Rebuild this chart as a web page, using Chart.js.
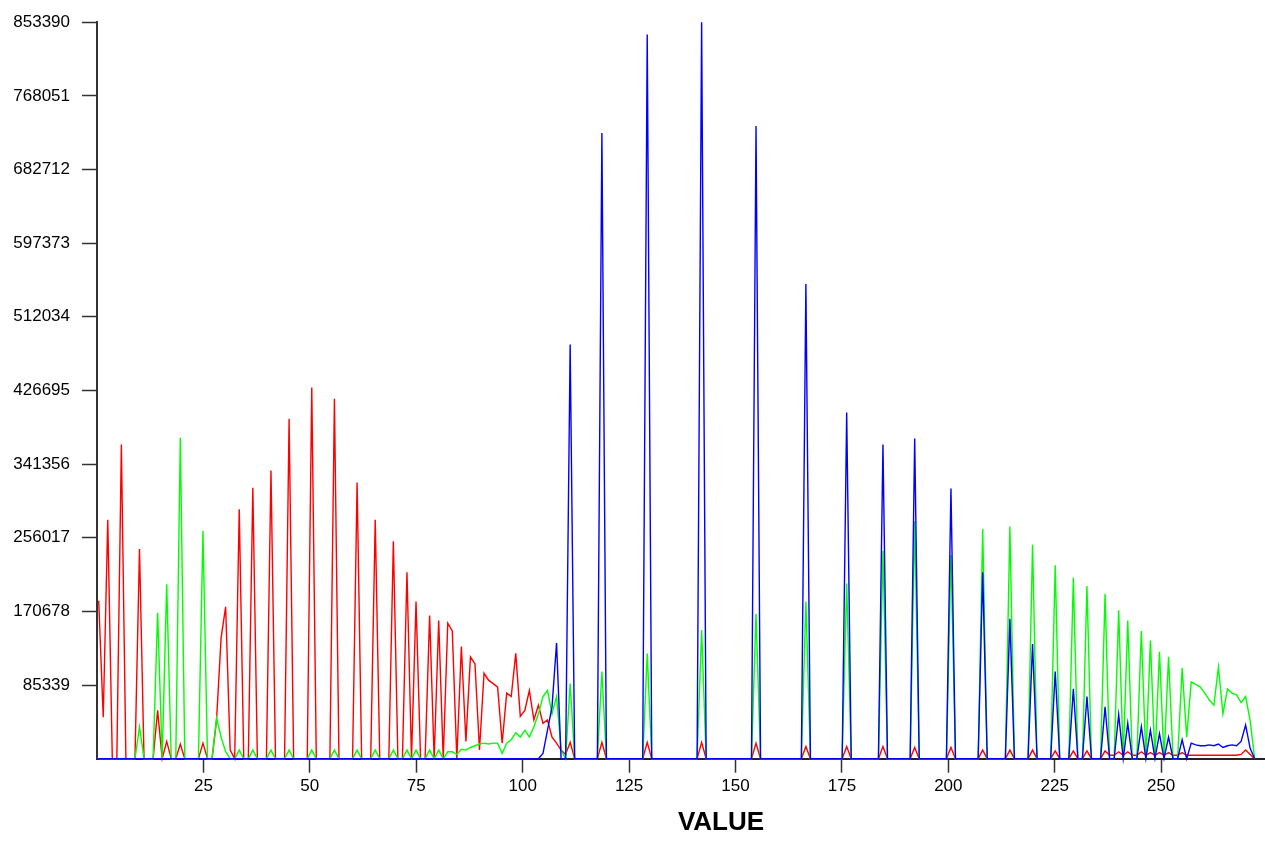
<!DOCTYPE html>
<html lang="en">
<head>
    <meta charset="UTF-8">
    <title>RGB histogram</title>
    <script src="https://cdn.jsdelivr.net/npm/chart.js"></script>
    <style>
        body {
            margin: 0;
            background: #fff;
        }
        #wrap {
            width: 1265px;
            height: 842px;
        }
    </style>
</head>
<body>
    <div id="wrap">
        <canvas id="histChart"></canvas>
    </div>

    <script>
        // Counts per histogram bin (256 bins), in thousands
        const red = [
            183, 48,277,  0,  0,364,  0,  0,  0,243,  0,  0,  0, 56,  0, 20,
              0,  0, 17,  0,  0,  0,  0, 18,  0,  0, 45,140,176, 10,  0,289,
              0,  0,314,  0,  0,  0,334,  0,  0,  0,394,  0,  0,  0,  0,430,
              0,  0,  0,  0,417,  0,  0,  0,  0,320,  0,  0,  0,277,  0,  0,
              0,252,  0,  0,216,  0,182,  0,  0,166,  0,160,  0,157,148,  0,
            130, 20,118,110, 10, 99, 91, 87, 83, 18, 76, 72,122, 49, 56, 79,
             45, 62, 41, 45, 25, 18, 10,  5, 19,  0,  0,  0,  0,  0,  0, 19,
              0,  0,  0,  0,  0,  0,  0,  0,  0, 19,  0,  0,  0,  0,  0,  0,
              0,  0,  0,  0,  0, 19,  0,  0,  0,  0,  0,  0,  0,  0,  0,  0,
              0, 18,  0,  0,  0,  0,  0,  0,  0,  0,  0,  0, 14,  0,  0,  0,
              0,  0,  0,  0,  0, 14,  0,  0,  0,  0,  0,  0,  0, 14,  0,  0,
              0,  0,  0,  0, 13,  0,  0,  0,  0,  0,  0,  0, 13,  0,  0,  0,
              0,  0,  0, 10,  0,  0,  0,  0,  0, 10,  0,  0,  0,  0, 10,  0,
              0,  0,  0,  9,  0,  0,  0,  9,  0,  0,  9,  0,  0,  0,  9,  4,
              4,  8,  4,  8,  4,  4,  8,  4,  7,  4,  7,  4,  7,  4,  4,  7,
              4,  4,  4,  4,  4,  4,  4,  4,  4,  4,  4,  4,  5, 10,  5,  0
        ];
        const green = [
              0,  0,  0,  0,  0,  0,  0,  0,  0, 37,  0,  0,  0,169,  0,202,
              0,  0,372,  0,  0,  0,  0,264,  0,  0, 47, 25,  8,  0,  0, 10,
              0,  0, 10,  0,  0,  0, 10,  0,  0,  0, 10,  0,  0,  0,  0, 10,
              0,  0,  0,  0, 10,  0,  0,  0,  0, 10,  0,  0,  0, 10,  0,  0,
              0, 10,  0,  0, 10,  0, 10,  0,  0, 10,  0, 10,  0,  8,  8,  5,
             11, 10, 13, 15, 17, 18, 17, 18, 18,  6, 18, 22, 30, 25, 33, 25,
             37, 52, 72, 79, 52, 72, 10,  0, 87,  0,  0,  0,  0,  0,  0,101,
              0,  0,  0,  0,  0,  0,  0,  0,  0,122,  0,  0,  0,  0,  0,  0,
              0,  0,  0,  0,  0,149,  0,  0,  0,  0,  0,  0,  0,  0,  0,  0,
              0,168,  0,  0,  0,  0,  0,  0,  0,  0,  0,  0,182,  0,  0,  0,
              0,  0,  0,  0,  0,203,  0,  0,  0,  0,  0,  0,  0,241,  0,  0,
              0,  0,  0,  0,275,  0,  0,  0,  0,  0,  0,  0,236,  0,  0,  0,
              0,  0,  0,266,  0,  0,  0,  0,  0,269,  0,  0,  0,  0,248,  0,
              0,  0,  0,224,  0,  0,  0,210,  0,  0,200,  0,  0,  0,191,  0,
              0,172,  0,160,  0,  0,148,  0,137,  0,124,  0,118,  0,  0,105,
             25, 89, 86, 83, 76, 68, 62,106, 52, 81, 76, 74, 65, 72, 44,  0
        ];
        const blue = [
              0,  0,  0,  0,  0,  0,  0,  0,  0,  0,  0,  0,  0,  0,  0,  0,
              0,  0,  0,  0,  0,  0,  0,  0,  0,  0,  0,  0,  0,  0,  0,  0,
              0,  0,  0,  0,  0,  0,  0,  0,  0,  0,  0,  0,  0,  0,  0,  0,
              0,  0,  0,  0,  0,  0,  0,  0,  0,  0,  0,  0,  0,  0,  0,  0,
              0,  0,  0,  0,  0,  0,  0,  0,  0,  0,  0,  0,  0,  0,  0,  0,
              0,  0,  0,  0,  0,  0,  0,  0,  0,  0,  0,  0,  0,  0,  0,  0,
              0,  0,  6, 33, 60,134,  0,  0,480,  0,  0,  0,  0,  0,  0,725,
              0,  0,  0,  0,  0,  0,  0,  0,  0,839,  0,  0,  0,  0,  0,  0,
              0,  0,  0,  0,  0,853.39,0,0,  0,  0,  0,  0,  0,  0,  0,  0,
              0,733,  0,  0,  0,  0,  0,  0,  0,  0,  0,  0,550,  0,  0,  0,
              0,  0,  0,  0,  0,401,  0,  0,  0,  0,  0,  0,  0,364,  0,  0,
              0,  0,  0,  0,371,  0,  0,  0,  0,  0,  0,  0,313,  0,  0,  0,
              0,  0,  0,216,  0,  0,  0,  0,  0,162,  0,  0,  0,  0,133,  0,
              0,  0,  0,101,  0,  0,  0, 81,  0,  0, 72,  0,  0,  0, 60,  0,
              0, 51,  0, 41,  0,  0, 37,  0, 33,  0, 29,  0, 25,  0,  0, 22,
              0, 18, 16, 15, 15, 16, 15, 17, 13, 15, 16, 15, 20, 39, 12,  0
        ];

        // Axis ticks as printed on the picture
        const valueTicks = [25, 50, 75, 100, 125, 150, 175, 200, 225, 250];
        const countTicks = [85339, 170678, 256017, 341356, 426695, 512034, 597373, 682712, 768051, 853390];

        // The VALUE axis of the picture: where bin 0 sits and how wide a bin is
        const firstBinValue = 0.4;
        const binWidth = 1.065;
        const valueMax = 274.4;
        const countMax = 853390;

        function toPoints(counts) {
            return counts.map((c, i) => ({ x: firstBinValue + i * binWidth, y: c * 1000 }));
        }

        function makeSet(label, counts, color) {
            return {
                label: label,
                data: toPoints(counts),
                borderColor: color,
                borderWidth: 1.4,
                pointRadius: 0,
                fill: false,
                tension: 0,
                clip: false
            };
        }

        const fontFamily = 'Liberation Sans, Arial, sans-serif';
        const tickFont = { family: fontFamily, size: 17 };

        // axis title, drawn where the picture has it (off the plot centre)
        const axisTitle = {
            id: 'axisTitle',
            afterDraw(chart) {
                const c = chart.ctx;
                c.save();
                c.font = 'bold 26px ' + fontFamily;
                c.fillStyle = '#000';
                c.textAlign = 'center';
                c.textBaseline = 'middle';
                c.fillText('VALUE', 721, 823);
                c.restore();
            }
        };

        const ctx = document.getElementById('histChart').getContext('2d');
        new Chart(ctx, {
            type: 'line',
            data: {
                // first dataset is drawn on top
                datasets: [
                    makeSet('Blue', blue, '#0000ff'),
                    makeSet('Green', green, '#00ff00'),
                    makeSet('Red', red, '#ff0000')
                ]
            },
            plugins: [axisTitle],
            options: {
                responsive: true,
                maintainAspectRatio: false,
                animation: false,
                layout: { padding: { top: 20.7, right: 0, bottom: 0, left: 0 } },
                plugins: {
                    legend: { display: false },
                    tooltip: { enabled: false }
                },
                scales: {
                    x: {
                        type: 'linear',
                        min: 0,
                        max: valueMax,
                        afterBuildTicks: s => {
                            s.ticks = valueTicks.map(v => ({ value: v }));
                        },
                        afterFit: s => { s.height = 83.3; },
                        ticks: {
                            maxRotation: 0,
                            autoSkip: false,
                            color: '#000',
                            font: tickFont,
                            padding: 3,
                            callback: v => String(v)
                        },
                        grid: {
                            drawOnChartArea: false,
                            tickLength: 14,
                            tickColor: '#333',
                            tickWidth: 1.5
                        },
                        border: { color: '#222', width: 2 }
                    },
                    y: {
                        min: 0,
                        max: countMax,
                        afterBuildTicks: s => {
                            s.ticks = countTicks.map(v => ({ value: v }));
                        },
                        afterFit: s => { s.width = 97; },
                        ticks: {
                            autoSkip: false,
                            color: '#000',
                            font: tickFont,
                            padding: 12,
                            callback: v => String(v)
                        },
                        grid: {
                            drawOnChartArea: false,
                            tickLength: 15,
                            tickColor: '#333',
                            tickWidth: 1.5
                        },
                        border: { color: '#333', width: 2 }
                    }
                }
            }
        });
    </script>
</body>
</html>
